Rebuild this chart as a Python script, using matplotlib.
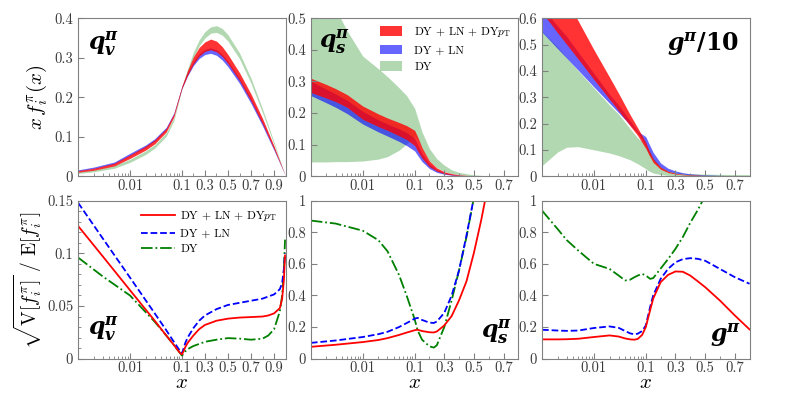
import numpy as np
import matplotlib
matplotlib.use('Agg')
import matplotlib.pyplot as plt
from matplotlib.ticker import FixedLocator, FixedFormatter, FuncFormatter, AutoMinorLocator
from matplotlib.patches import Patch
from matplotlib.lines import Line2D

plt.rcParams.update({
    'font.family': 'serif',
    'font.serif': ['cmr10'],
    'mathtext.fontset': 'cm',
    'axes.formatter.use_mathtext': True,
})

# --- data: top row (x f(x) bands) ---
x_qv = [0.001, 0.002, 0.005, 0.01, 0.02, 0.03, 0.05, 0.07, 0.1, 0.15, 0.2, 0.25,
        0.3, 0.35, 0.4, 0.45, 0.5, 0.6, 0.7, 0.8, 0.9, 0.95, 1.0]
qv_red_lo = [0.010, 0.015, 0.026, 0.045, 0.066, 0.082, 0.112, 0.150, 0.222, 0.256, 0.284, 0.304,
             0.316, 0.320, 0.315, 0.303, 0.285, 0.242, 0.190, 0.132, 0.068, 0.034, 0.0]
qv_red_hi = [0.014, 0.020, 0.033, 0.054, 0.076, 0.092, 0.121, 0.158, 0.228, 0.268, 0.302, 0.326,
             0.340, 0.347, 0.342, 0.328, 0.308, 0.262, 0.208, 0.146, 0.076, 0.038, 0.0]
qv_blue_lo = [0.013, 0.019, 0.031, 0.052, 0.073, 0.089, 0.118, 0.155, 0.222, 0.254, 0.280, 0.298,
              0.308, 0.311, 0.306, 0.294, 0.277, 0.235, 0.184, 0.127, 0.065, 0.032, 0.0]
qv_blue_hi = [0.016, 0.023, 0.036, 0.058, 0.079, 0.095, 0.124, 0.160, 0.227, 0.262, 0.290, 0.310,
              0.321, 0.325, 0.320, 0.308, 0.291, 0.248, 0.196, 0.137, 0.071, 0.035, 0.0]
qv_green_lo = [0.007, 0.011, 0.020, 0.035, 0.055, 0.071, 0.101, 0.140, 0.220, 0.262, 0.300, 0.330,
               0.350, 0.362, 0.364, 0.357, 0.342, 0.297, 0.235, 0.160, 0.080, 0.038, 0.0]
qv_green_hi = [0.011, 0.016, 0.027, 0.043, 0.064, 0.080, 0.110, 0.148, 0.226, 0.272, 0.314, 0.345,
               0.366, 0.378, 0.381, 0.374, 0.358, 0.312, 0.248, 0.170, 0.086, 0.042, 0.0]

x_sg = [0.001, 0.002, 0.003, 0.005, 0.01, 0.02, 0.03, 0.05, 0.07, 0.1, 0.12, 0.15,
        0.2, 0.25, 0.3, 0.35, 0.4, 0.5, 0.6, 0.7, 0.8]
qs_red_lo = [0.265, 0.247, 0.236, 0.218, 0.180, 0.157, 0.145, 0.128, 0.116, 0.097, 0.080, 0.057,
             0.030, 0.016, 0.008, 0.004, 0.002, 0.0005, 0.0001, 0.0, 0.0]
qs_red_hi = [0.310, 0.290, 0.277, 0.258, 0.222, 0.197, 0.184, 0.170, 0.160, 0.145, 0.125, 0.090,
             0.048, 0.026, 0.014, 0.008, 0.004, 0.001, 0.0003, 0.0, 0.0]
qs_blue_lo = [0.255, 0.232, 0.218, 0.198, 0.165, 0.140, 0.127, 0.110, 0.097, 0.080, 0.066, 0.046,
              0.024, 0.012, 0.006, 0.003, 0.0015, 0.0004, 0.0001, 0.0, 0.0]
qs_blue_hi = [0.300, 0.275, 0.260, 0.240, 0.205, 0.178, 0.165, 0.150, 0.138, 0.120, 0.100, 0.072,
              0.038, 0.020, 0.011, 0.006, 0.003, 0.0008, 0.0002, 0.0, 0.0]
qs_green_lo = [0.045, 0.045, 0.046, 0.046, 0.048, 0.054, 0.062, 0.082, 0.102, 0.128, 0.115, 0.085,
               0.048, 0.027, 0.015, 0.008, 0.004, 0.001, 0.0003, 0.0, 0.0]
qs_green_hi = [0.70, 0.58, 0.53, 0.46, 0.38, 0.34, 0.315, 0.28, 0.255, 0.215, 0.185, 0.14,
               0.087, 0.055, 0.035, 0.02, 0.012, 0.004, 0.001, 0.0003, 0.0001]

g_red_lo = [0.622, 0.544, 0.500, 0.444, 0.367, 0.292, 0.248, 0.191, 0.154, 0.105, 0.082, 0.052,
            0.026, 0.014, 0.008, 0.005, 0.003, 0.0015, 0.0008, 0.0004, 0.0002]
g_red_hi = [0.835, 0.728, 0.666, 0.589, 0.480, 0.376, 0.314, 0.233, 0.183, 0.128, 0.100, 0.066,
            0.034, 0.019, 0.011, 0.007, 0.005, 0.0025, 0.0013, 0.0007, 0.0004]
g_blue_lo = [0.547, 0.484, 0.448, 0.402, 0.339, 0.277, 0.241, 0.194, 0.165, 0.115, 0.090, 0.062,
             0.033, 0.019, 0.012, 0.008, 0.005, 0.003, 0.0015, 0.001, 0.0005]
g_blue_hi = [0.640, 0.570, 0.530, 0.470, 0.390, 0.310, 0.270, 0.210, 0.170, 0.150, 0.125, 0.090,
             0.050, 0.030, 0.020, 0.013, 0.009, 0.005, 0.003, 0.002, 0.001]
g_green_lo = [0.040, 0.092, 0.110, 0.112, 0.100, 0.088, 0.078, 0.062, 0.047, 0.028, 0.020, 0.012,
              0.006, 0.003, 0.002, 0.0015, 0.001, 0.0005, 0.0003, 0.0002, 0.0001]
g_green_hi = [0.55, 0.49, 0.45, 0.40, 0.335, 0.27, 0.235, 0.18, 0.145, 0.12, 0.10, 0.068,
              0.035, 0.02, 0.014, 0.011, 0.009, 0.008, 0.007, 0.006, 0.006]

# --- data: bottom row (relative uncertainties) ---
xr_qv = [0.001, 0.003, 0.01, 0.03, 0.05, 0.07, 0.09, 0.1, 0.11, 0.13, 0.15, 0.2, 0.25,
         0.3, 0.4, 0.5, 0.6, 0.7, 0.8, 0.85, 0.9, 0.95, 0.97, 0.985, 0.995]
rqv_red = [0.126, 0.097, 0.065, 0.036, 0.022, 0.013, 0.006, 0.004, 0.006, 0.011, 0.015, 0.022, 0.028,
           0.032, 0.036, 0.038, 0.039, 0.0395, 0.040, 0.041, 0.043, 0.048, 0.057, 0.075, 0.098]
rqv_blue = [0.148, 0.114, 0.077, 0.043, 0.027, 0.016, 0.008, 0.005, 0.008, 0.015, 0.020, 0.029, 0.036,
            0.041, 0.047, 0.051, 0.053, 0.055, 0.057, 0.059, 0.061, 0.066, 0.072, 0.085, 0.100]
rqv_green = [0.096, 0.078, 0.060, 0.035, 0.022, 0.013, 0.006, 0.003, 0.004, 0.007, 0.009, 0.012, 0.014,
             0.016, 0.018, 0.0195, 0.019, 0.018, 0.019, 0.022, 0.028, 0.045, 0.060, 0.085, 0.113]

xr_qs = [0.001, 0.003, 0.01, 0.02, 0.03, 0.05, 0.07, 0.1, 0.12, 0.15, 0.2, 0.23, 0.25,
         0.3, 0.35, 0.4, 0.45, 0.5, 0.55, 0.6]
rqs_red = [0.075, 0.088, 0.105, 0.118, 0.130, 0.150, 0.165, 0.180, 0.183, 0.175, 0.167, 0.166, 0.172,
           0.210, 0.270, 0.370, 0.490, 0.670, 0.880, 1.120]
rqs_blue = [0.100, 0.115, 0.137, 0.155, 0.170, 0.200, 0.225, 0.253, 0.258, 0.245, 0.228, 0.226, 0.235,
            0.290, 0.400, 0.560, 0.780, 1.020, 1.3, 1.6]
rqs_green = [0.874, 0.855, 0.81, 0.75, 0.68, 0.53, 0.40, 0.25, 0.18, 0.12, 0.078, 0.07, 0.085,
             0.20, 0.37, 0.56, 0.77, 1.02, 1.3, 1.6]

xr_g = [0.001, 0.002, 0.003, 0.005, 0.01, 0.02, 0.03, 0.04, 0.05, 0.06, 0.07, 0.085, 0.1,
        0.13, 0.15, 0.2, 0.25, 0.3, 0.35, 0.4, 0.45, 0.5, 0.6, 0.7, 0.8]
rg_red = [0.122, 0.122, 0.123, 0.126, 0.137, 0.147, 0.140, 0.128, 0.122, 0.120, 0.125, 0.150, 0.200,
          0.310, 0.380, 0.484, 0.530, 0.552, 0.550, 0.526, 0.490, 0.453, 0.368, 0.274, 0.185]
rg_blue = [0.183, 0.178, 0.176, 0.178, 0.194, 0.204, 0.195, 0.175, 0.160, 0.154, 0.158, 0.175, 0.210,
           0.330, 0.400, 0.505, 0.568, 0.610, 0.630, 0.636, 0.632, 0.620, 0.568, 0.516, 0.474]
rg_green = [0.937, 0.82, 0.75, 0.684, 0.60, 0.568, 0.526, 0.495, 0.50, 0.515, 0.526, 0.537, 0.526,
            0.505, 0.51, 0.57, 0.63, 0.695, 0.77, 0.86, 0.94, 1.03, 1.2, 1.4, 1.6]

labels = [r'DY + LN + DY$p_{\rm T}$', 'DY + LN', 'DY']
RED, BLUE, GREEN = '#ff0000', '#0000ff', '#008000'
GREY = '#808080'


def mixed_scale(xmax):
    # log from 1e-3 to 0.1 on the left half, linear from 0.1 to xmax on the right half
    def fwd(x):
        x = np.asarray(x, float)
        lo = (np.log10(np.clip(x, 1e-9, None)) + 3) / 4
        hi = 0.5 + 0.5 * (x - 0.1) / (xmax - 0.1)
        return np.where(x < 0.1, lo, hi)

    def inv(y):
        y = np.asarray(y, float)
        lo = 10 ** (np.clip(y, -5, 5) * 4 - 3)
        hi = 0.1 + (y - 0.5) * 2 * (xmax - 0.1)
        return np.where(y < 0.5, lo, hi)
    return fwd, inv


def style_axis(ax, xmax, yticks, ymax):
    ax.set_xscale('function', functions=mixed_scale(xmax))
    ax.set_xlim(0.001, xmax)
    ticks = [0.01, 0.1, 0.3, 0.5, 0.7] + ([0.9] if xmax > 0.9 else [])
    ax.xaxis.set_major_locator(FixedLocator(ticks))
    ax.xaxis.set_major_formatter(FixedFormatter(['%g' % t for t in ticks]))
    minors = [m * 10.0 ** e for e in (-3, -2) for m in range(2, 10)] + [0.2, 0.4, 0.6, 0.8]
    ax.xaxis.set_minor_locator(FixedLocator([m for m in minors if m < xmax]))
    ax.set_ylim(0, ymax)
    ax.yaxis.set_major_locator(FixedLocator(yticks))
    ax.yaxis.set_major_formatter(FuncFormatter(lambda v, p: '%g' % v))
    ax.tick_params(which='both', direction='in', colors=GREY, labelcolor='#3a3a3a', labelsize=10.5)
    ax.tick_params(which='major', length=4)
    ax.tick_params(which='minor', length=2)
    ax.tick_params(axis='x', pad=2)
    for s in ax.spines.values():
        s.set_color(GREY)


fig = plt.figure(figsize=(7.89, 3.95), dpi=100)
lefts = [0.099, 0.394, 0.687]
w, h = 0.263, 0.40
top_axes = [fig.add_axes([l, 0.554, w, h]) for l in lefts]
bot_axes = [fig.add_axes([l, 0.092, w, h]) for l in lefts]

bands = [
    (x_qv, qv_green_lo, qv_green_hi, qv_blue_lo, qv_blue_hi, qv_red_lo, qv_red_hi),
    (x_sg, qs_green_lo, qs_green_hi, qs_blue_lo, qs_blue_hi, qs_red_lo, qs_red_hi),
    (x_sg, g_green_lo, g_green_hi, g_blue_lo, g_blue_hi, g_red_lo, g_red_hi),
]
top_ymax = [0.4, 0.5, 0.6]
top_ticks = [[0, 0.1, 0.2, 0.3, 0.4], [0, 0.1, 0.2, 0.3, 0.4, 0.5], [0, 0.1, 0.2, 0.3, 0.4, 0.5, 0.6]]
xmaxs = [1.0, 0.8, 0.8]

for ax, b, ym, yt, xm in zip(top_axes, bands, top_ymax, top_ticks, xmaxs):
    xx, glo, ghi, blo, bhi, rlo, rhi = b
    ax.fill_between(xx, glo, ghi, color=GREEN, alpha=0.3, lw=0)
    ax.fill_between(xx, blo, bhi, color=BLUE, alpha=0.6, lw=0)
    ax.fill_between(xx, rlo, rhi, color=RED, alpha=0.8, lw=0)
    style_axis(ax, xm, yt, ym)

top_axes[0].set_ylabel(r'$x\,f_i^{\pi}(x)$', fontsize=15, labelpad=4)

bold = dict(fontsize=17, math_fontfamily='dejavuserif')
top_axes[0].text(0.05, 0.93, r'$\mathbfit{q}_{\mathbfit{v}}^{\mathbfit{\pi}}$', transform=top_axes[0].transAxes,
                 ha='left', va='top', **bold)
top_axes[1].text(0.04, 0.94, r'$\mathbfit{q}_{\mathbfit{s}}^{\mathbfit{\pi}}$', transform=top_axes[1].transAxes,
                 ha='left', va='top', **bold)
top_axes[2].text(0.95, 0.92, r'$\mathbfit{g}^{\mathbfit{\pi}}\mathbf{/10}$', transform=top_axes[2].transAxes,
                 ha='right', va='top', **bold)

handles = [Patch(facecolor=RED, alpha=0.8, lw=0), Patch(facecolor=BLUE, alpha=0.6, lw=0),
           Patch(facecolor=GREEN, alpha=0.3, lw=0)]
top_axes[1].legend(handles, labels, loc='upper right', frameon=False, fontsize=8.3,
                   handlelength=1.9, handleheight=0.9, handletextpad=1.1,
                   borderaxespad=0.2, labelspacing=0.5)

curves = [
    (xr_qv, rqv_red, rqv_blue, rqv_green),
    (xr_qs, rqs_red, rqs_blue, rqs_green),
    (xr_g, rg_red, rg_blue, rg_green),
]
bot_ymax = [0.15, 1.0, 1.0]
bot_ticks = [[0, 0.05, 0.1, 0.15], [0, 0.2, 0.4, 0.6, 0.8, 1.0], [0, 0.2, 0.4, 0.6, 0.8, 1.0]]
for ax, c, ym, yt, xm in zip(bot_axes, curves, bot_ymax, bot_ticks, xmaxs):
    xx, r, b, g = c
    ax.plot(xx, g, color=GREEN, ls='-.', lw=1.3)
    ax.plot(xx, b, color=BLUE, ls='--', lw=1.3)
    ax.plot(xx, r, color=RED, ls='-', lw=1.3)
    style_axis(ax, xm, yt, ym)
    ax.set_xlabel(r'$x$', fontsize=15, labelpad=-1)
bot_axes[0].yaxis.set_minor_locator(AutoMinorLocator(5))

bot_axes[0].set_ylabel(r'$\sqrt{\mathrm{V}[f_i^{\pi}]}\ /\ \mathrm{E}[f_i^{\pi}]$', fontsize=14, labelpad=2)
bot_axes[0].text(0.05, 0.1, r'$\mathbfit{q}_{\mathbfit{v}}^{\mathbfit{\pi}}$', transform=bot_axes[0].transAxes,
                 ha='left', va='bottom', **bold)
bot_axes[1].text(0.97, 0.08, r'$\mathbfit{q}_{\mathbfit{s}}^{\mathbfit{\pi}}$', transform=bot_axes[1].transAxes,
                 ha='right', va='bottom', **bold)
bot_axes[2].text(0.96, 0.06, r'$\mathbfit{g}^{\mathbfit{\pi}}$', transform=bot_axes[2].transAxes,
                 ha='right', va='bottom', **bold)

line_handles = [Line2D([], [], color=RED, ls='-', lw=1.3), Line2D([], [], color=BLUE, ls='--', lw=1.3),
                Line2D([], [], color=GREEN, ls='-.', lw=1.3)]
bot_axes[0].legend(line_handles, labels, loc='upper right', frameon=False, fontsize=8.3,
                   handlelength=2.9, handletextpad=0.5, borderaxespad=0.3, labelspacing=0.5)

fig.savefig('out.png', dpi=100)
